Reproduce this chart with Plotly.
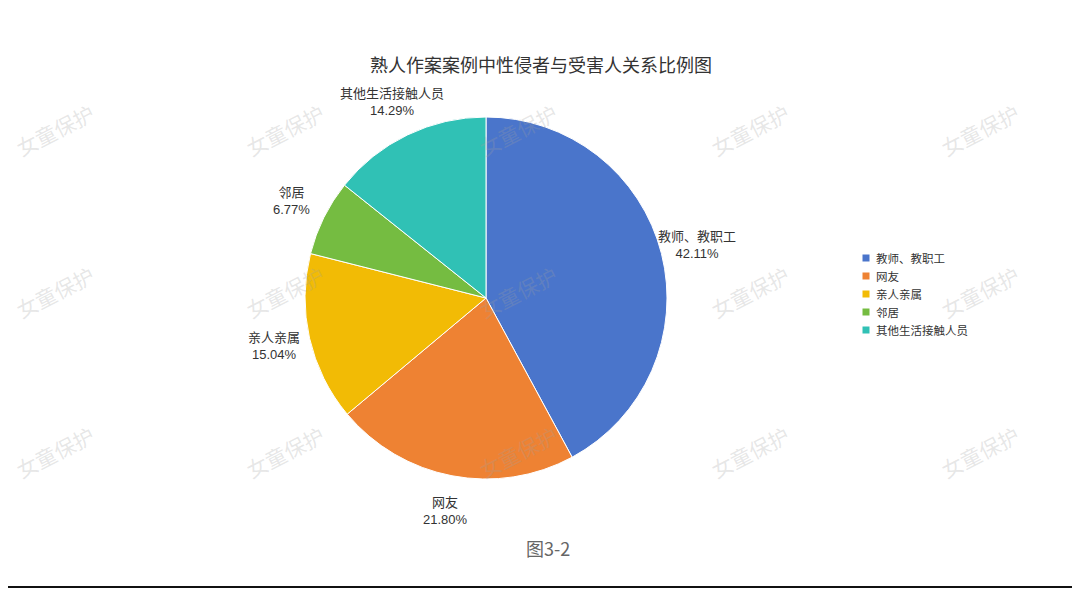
import math
import plotly.graph_objects as go

# ---- data ----
categories = ["教师、教职工", "网友", "亲人亲属", "邻居", "其他生活接触人员"]
counts = [56, 29, 20, 9, 19]
colors = ["#4A75CB", "#EE8233", "#F2BB05", "#75BC41", "#30C1B5"]
title_text = "熟人作案案例中性侵者与受害人关系比例图"
caption_text = "图3-2"
watermark_text = "女童保护"

W, H = 1080, 589
OFF = 8  # page body margin


def fx(p):
    return (p - OFF) / W


def fy(p):
    return 1 - (p - OFF) / H


# pie geometry (page pixels)
cx, cy, R = 486, 298, 181

fig = go.Figure()
fig.add_trace(go.Pie(
    labels=categories, values=counts, sort=False, direction="clockwise", rotation=0,
    marker=dict(colors=colors, line=dict(color="white", width=1)),
    textinfo="none", hoverinfo="label+percent", showlegend=False,
    domain=dict(x=[fx(cx - R), fx(cx + R)], y=[fy(cy + R), fy(cy - R)]),
))

annotations = []
shapes = []
total = sum(counts)
cum = 0
for name, v in zip(categories, counts):
    frac = v / total
    mid = (cum + frac / 2) * 2 * math.pi
    cum += frac
    r = R * 1.2
    px = cx + r * math.sin(mid)
    py = cy - r * math.cos(mid)
    annotations.append(dict(
        x=fx(px), y=fy(py), xref="paper", yref="paper", showarrow=False,
        text=f"{name}<br>{frac*100:.2f}%", align="center",
        font=dict(size=13, color="#333333", family="Liberation Sans, Noto Sans CJK SC"),
        xanchor="center", yanchor="middle"))

# manual legend
leg_x, leg_y0, leg_dy, sq = 866, 258, 18, 7
for i, (name, col) in enumerate(zip(categories, colors)):
    yy = leg_y0 + i * leg_dy
    shapes.append(dict(type="rect", xref="paper", yref="paper",
                       x0=fx(leg_x - sq / 2), x1=fx(leg_x + sq / 2),
                       y0=fy(yy + sq / 2), y1=fy(yy - sq / 2),
                       fillcolor=col, line=dict(width=0)))
    annotations.append(dict(x=fx(leg_x + 8), y=fy(yy), xref="paper", yref="paper",
                            showarrow=False, text=name, xanchor="left", yanchor="middle",
                            font=dict(size=11.5, color="#333333", family="Noto Sans CJK SC")))

# watermarks
wm_x = [55, 285, 518, 750, 980]
wm_y = [130, 292, 452]
for yy in wm_y:
    for xx in wm_x:
        annotations.append(dict(
            x=fx(xx), y=fy(yy), xref="paper", yref="paper", showarrow=False,
            xanchor="center", yanchor="middle",
            text=watermark_text, textangle=-27,
            font=dict(size=21, color="rgba(160,160,160,0.26)", family="Noto Sans CJK SC")))

annotations.append(dict(x=fx(548), y=fy(548), xref="paper", yref="paper", showarrow=False,
                        xanchor="center", yanchor="middle",
                        text=caption_text, font=dict(size=18, color="#666666",
                                                     family="Noto Sans CJK SC")))

shapes.append(dict(type="line", xref="paper", yref="paper", x0=fx(0), x1=fx(1080),
                   y0=fy(587), y1=fy(587), line=dict(color="#111111", width=2)))

fig.update_layout(
    width=W, height=H, margin=dict(l=0, r=0, t=0, b=0),
    paper_bgcolor="white", plot_bgcolor="white",
    title=dict(text=title_text, x=fx(541), xanchor="center", y=fy(66), yanchor="middle",
               font=dict(size=18, color="#333333", family="Noto Sans CJK SC")),
    showlegend=False,
    annotations=annotations,
    shapes=shapes,
)

fig.write_html("out.html")
